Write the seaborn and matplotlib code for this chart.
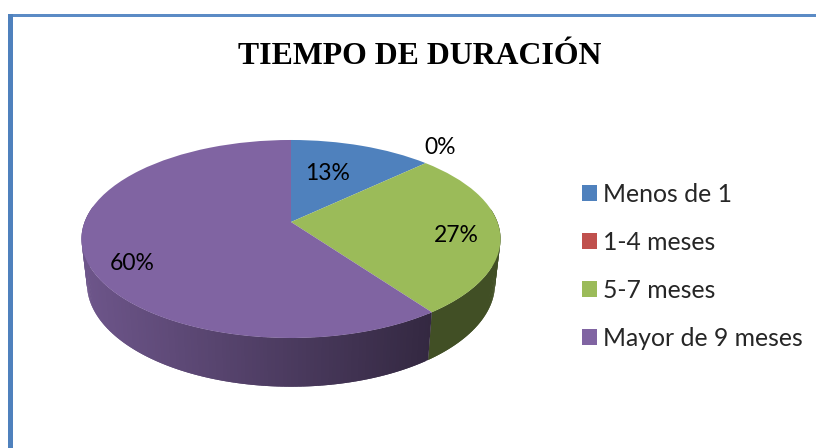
import numpy as np
import seaborn as sns
import matplotlib
matplotlib.use('Agg')
import matplotlib.pyplot as plt
from matplotlib.patches import Patch, Rectangle
from matplotlib.transforms import Transform

categories = ['Menos de 1', '1-4 meses', '5-7 meses', 'Mayor de 9 meses']
values = [13, 0, 27, 60]
colors = ['#4F81BD', '#C0504D', '#9BBB59', '#8064A2']
title = 'TIEMPO DE DURACIÓN'

# where the percent labels sit, in pixels
label_pos = [(328, 174), (440, 147), (456, 236), (132, 264)]


class Tilt(Transform):
    """unit circle -> pie seen from above, with a bit of perspective"""
    input_dims = 2
    output_dims = 2

    def __init__(self, x0, y0, a, b, k):
        super().__init__()
        self.x0, self.y0, self.a, self.b, self.k = x0, y0, a, b, k

    def transform_non_affine(self, values):
        values = np.asarray(values, dtype=float)
        w = 1 + self.k * values[:, 1]
        return np.column_stack([self.x0 + self.a * values[:, 0] / w,
                                self.y0 - self.b * values[:, 1] / w])


top_rim = Tilt(291, 222, 206.4, 96.1, 0.1717)
bottom_rim = Tilt(291, 266, 201, 100, 0.1717)


def side_shade(color, x):
    # darker going to the right, like the office 3d pie
    f = np.interp(x, [80, 430], [0.86, 0.40])
    return tuple(c * f for c in matplotlib.colors.to_rgb(color))


sns.set_theme(style='white')
plt.rcParams['font.family'] = ['Lato', 'DejaVu Sans']

fig = plt.figure(figsize=(8.16, 4.48), dpi=100)
ax = fig.add_axes([0, 0, 1, 1])

# top face
wedges, _ = ax.pie(values, colors=colors, startangle=90, counterclock=False,
                   wedgeprops={'edgecolor': 'none', 'linewidth': 0})
for w in wedges:
    w.set_transform(top_rim + ax.transData)
    w.set_zorder(3)
ax.set_aspect('auto')
ax.set_xlim(0, 816)
ax.set_ylim(448, 0)

# side wall, thin strips between the two rims
start = 0
for val, col in zip(values, colors):
    if val > 0:
        theta = np.linspace(start, start + val, val * 4 + 1) / 100 * 2 * np.pi
        circle = np.column_stack([np.sin(theta), np.cos(theta)])
        up = top_rim.transform_non_affine(circle)
        down = bottom_rim.transform_non_affine(circle)
        for i in range(len(theta) - 1):
            # each strip runs over the next one so no seams show
            j = min(i + 2, len(theta) - 1)
            quad = np.vstack([up[i], up[j], down[j], down[i]])
            if col == colors[3]:
                c = side_shade(col, quad[:, 0].mean())
            else:
                c = tuple(v * 0.42 for v in matplotlib.colors.to_rgb(col))
            # only the front half shows
            if circle[i, 1] < 0.15:
                ax.fill(quad[:, 0], quad[:, 1], facecolor=c, edgecolor='none', lw=0, zorder=2)
    start += val

for val, (x, y) in zip(values, label_pos):
    ax.text(x, y, f'{val}%', ha='center', va='center', fontsize=16.5, color='black', zorder=4)

ax.text(420, 57, title, ha='center', va='center', fontsize=22.9, fontweight='bold',
        family='Liberation Serif', color='black')

handles = [Patch(facecolor=c, edgecolor='none') for c in colors]
ax.legend(handles, categories, loc='upper left', bbox_to_anchor=(582 / 816, 1 - 183 / 448),
          frameon=False, fontsize=17.8, handlelength=0.6, handleheight=0.6,
          handletextpad=0.25, labelspacing=1.01, borderpad=0, borderaxespad=0)

# blue frame of the pasted chart, only top and left are in the crop
ax.add_patch(Rectangle((8, 14), 808, 2.7, facecolor='#5B8BC5', edgecolor='none', zorder=5))
ax.add_patch(Rectangle((8, 14), 5.3, 434, facecolor='#4F81BD', edgecolor='none', zorder=5))

fig.savefig('out.png', dpi=100)
